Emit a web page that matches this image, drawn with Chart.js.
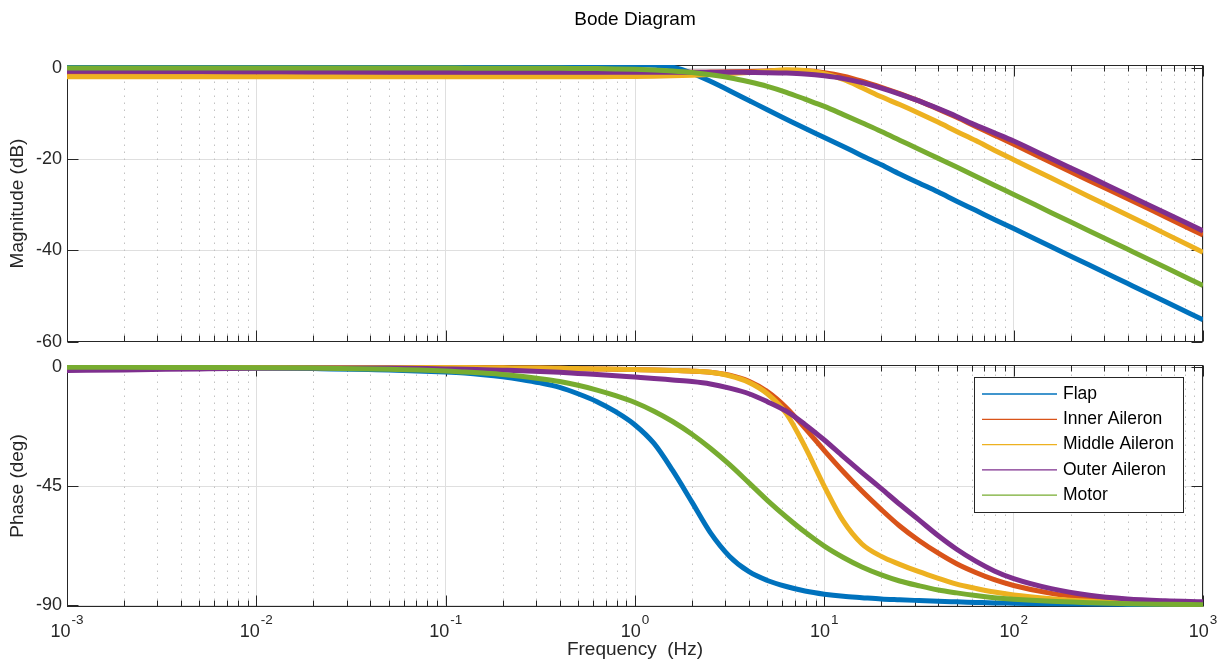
<!DOCTYPE html>
<html>
<head>
<meta charset="utf-8">
<script src="https://cdn.jsdelivr.net/npm/chart.js@4.4.1/dist/chart.umd.min.js"></script>
<style>
  html, body { margin: 0; padding: 0; background: #fff; }
  #wrap { position: relative; width: 1227px; height: 665px; background: #fff; overflow: hidden; }
  #wrap canvas { position: absolute; left: 0; }
</style>
</head>
<body>
<div id="wrap">
  <canvas id="mag" width="1227" height="350" style="top:0"></canvas>
  <canvas id="ph" width="1227" height="315" style="top:350px"></canvas>
</div>
<script>
// ---------------- data ----------------
const freqHz = [0.001,0.002,0.005,0.01,0.02,0.05,
  0.1,0.126,0.158,0.2,0.25,0.316,0.4,0.5,0.63,0.79,
  1,1.26,1.58,2,2.5,3.16,4,5,6.3,7.9,
  10,12.6,15.8,20,25,31.6,40,50,63,79,
  100,158,251,398,631,1000];

const seriesNames = ['Flap','Inner Aileron','Middle Aileron','Outer Aileron','Motor'];
const seriesColors = ['#0072BD','#D95319','#EDB120','#7E2F8E','#77AC30'];

// magnitude (dB)
const magFlap   = [0.3,0.3,0.3,0.3,0.3,0.3,
  0.35,0.35,0.37,0.4,0.42,0.45,0.5,0.55,0.62,0.7,
  0.75,0.65,0.2,-1.1,-2.9,-4.95,-7.1,-9.15,-11.2,-13.2,
  -15.2,-17.2,-19.2,-21.2,-23.2,-25.2,-27.2,-29.2,-31.2,-33.2,
  -35.2,-39.2,-43.2,-47.2,-51.2,-55.2];
const magInner  = [-0.9,-0.9,-0.9,-0.9,-0.9,-0.9,
  -0.95,-1.0,-1.0,-1.0,-1.0,-1.0,-1.0,-1.0,-1.0,-1.0,
  -1.0,-0.98,-0.96,-0.93,-0.88,-0.82,-0.73,-0.63,-0.55,-0.6,
  -1.0,-1.75,-2.85,-4.2,-5.6,-7.2,-9.0,-10.8,-12.8,-14.7,
  -16.7,-20.7,-24.7,-28.6,-32.6,-36.6];
const magMiddle = [-1.9,-1.9,-1.9,-1.9,-1.9,-1.9,
  -1.9,-1.9,-1.9,-1.9,-1.9,-1.9,-1.9,-1.9,-1.88,-1.86,
  -1.83,-1.78,-1.7,-1.58,-1.42,-1.2,-0.95,-0.7,-0.35,-0.5,
  -1.2,-2.5,-4.3,-6.3,-8.0,-9.9,-11.9,-13.9,-15.9,-18.0,
  -20.1,-24.1,-28.2,-32.2,-36.3,-40.4];
const magOuter  = [-0.7,-0.7,-0.75,-0.8,-0.85,-0.9,
  -0.9,-0.9,-0.9,-0.9,-0.9,-0.9,-0.9,-0.9,-0.9,-0.9,
  -0.9,-0.9,-0.9,-0.9,-0.9,-0.9,-0.95,-1.0,-1.1,-1.3,
  -1.7,-2.3,-3.2,-4.4,-5.7,-7.2,-8.9,-10.6,-12.5,-14.2,
  -16.0,-19.9,-23.8,-27.8,-31.7,-35.7];
const magMotor  = [0,0,0,0,0,0,
  0,-0.01,-0.01,-0.01,-0.02,-0.03,-0.04,-0.07,-0.11,-0.17,
  -0.26,-0.41,-0.63,-0.96,-1.45,-2.1,-3.0,-4.0,-5.3,-6.8,
  -8.4,-10.2,-12.0,-13.9,-15.8,-17.8,-19.8,-21.7,-23.7,-25.7,
  -27.7,-31.7,-35.7,-39.7,-43.7,-47.7];

// phase (deg)
const phFlap   = [-0.1,-0.1,-0.2,-0.3,-0.5,-1.0,
  -1.8,-2.2,-2.8,-3.6,-4.6,-5.9,-7.6,-10.0,-13.0,-16.8,
  -21.8,-28.8,-39.0,-51.0,-62.5,-71.5,-77.3,-80.6,-82.9,-84.6,
  -85.8,-86.6,-87.1,-87.6,-87.9,-88.2,-88.5,-88.7,-88.9,-89.1,
  -89.2,-89.4,-89.55,-89.65,-89.75,-89.85];
const phInner  = [0,0,0,0,0,-0.05,
  -0.1,-0.12,-0.15,-0.2,-0.25,-0.3,-0.4,-0.5,-0.6,-0.7,
  -0.85,-1.0,-1.2,-1.45,-1.9,-3.0,-5.3,-9.2,-15.3,-23.0,
  -31.5,-39.5,-46.8,-53.8,-60.0,-65.5,-70.3,-74.3,-77.6,-80.3,
  -82.5,-85.5,-87.3,-88.4,-89.0,-89.4];
const phMiddle = [0,0,0,0,0,-0.05,
  -0.1,-0.12,-0.15,-0.2,-0.25,-0.3,-0.4,-0.5,-0.6,-0.7,
  -0.85,-1.0,-1.2,-1.45,-1.9,-3.2,-5.7,-10.0,-17.5,-30.0,
  -45.0,-58.2,-66.8,-71.5,-74.5,-77.3,-79.8,-82.0,-83.6,-85.0,
  -86.1,-87.5,-88.5,-89.1,-89.4,-89.6];
const phOuter  = [-1.2,-1.0,-0.6,-0.35,-0.25,-0.3,
  -0.6,-0.7,-0.9,-1.1,-1.3,-1.6,-1.9,-2.3,-2.7,-3.2,
  -3.7,-4.2,-4.8,-5.4,-6.3,-7.9,-10.0,-13.0,-16.6,-21.6,
  -27.5,-33.8,-39.8,-45.9,-51.8,-57.7,-63.7,-68.8,-73.3,-77.0,
  -79.9,-83.7,-86.2,-87.6,-88.3,-88.7];
const phMotor  = [0,0,-0.1,-0.15,-0.3,-0.7,
  -1.4,-1.8,-2.2,-2.7,-3.4,-4.3,-5.4,-6.8,-8.6,-10.7,
  -13.3,-16.6,-20.5,-25.3,-30.6,-36.8,-43.7,-50.3,-56.6,-62.3,
  -67.6,-71.9,-75.5,-78.5,-80.8,-82.6,-84.2,-85.3,-86.3,-87.1,
  -87.7,-88.5,-89.0,-89.4,-89.6,-89.75];

// ticks
const xMajorTicks = [0.001,0.01,0.1,1,10,100,1000];
const xTickBase = '10';
const xTickExps = ['-3','-2','-1','0','1','2','3'];
const xMinorTicks = [0.002,0.003,0.004,0.005,0.006,0.007,0.008,0.009,
                     0.02,0.03,0.04,0.05,0.06,0.07,0.08,0.09,
                     0.2,0.3,0.4,0.5,0.6,0.7,0.8,0.9,
                     2,3,4,5,6,7,8,9,
                     20,30,40,50,60,70,80,90,
                     200,300,400,500,600,700,800,900];
const magTicks = [0,-20,-40,-60];
const phTicks = [0,-45,-90];

// ---------------- styling ----------------
const FONT = "'Liberation Sans', Arial, Helvetica, sans-serif";
const AXC = '#262626';
const GRID = '#dfdfdf';

function toXY(vals) { return freqHz.map((f, i) => ({ x: f, y: vals[i] })); }

function makeDatasets(valueArrays) {
  return valueArrays.map((vals, i) => ({
    label: seriesNames[i],
    data: toXY(vals),
    borderColor: seriesColors[i],
    backgroundColor: seriesColors[i],
    borderWidth: 5,
    pointRadius: 0,
    fill: false,
    cubicInterpolationMode: 'monotone',
    order: valueArrays.length - i   // later series drawn on top (like MATLAB)
  }));
}

const framePlugin = {
  id: 'frame',
  beforeDatasetsDraw(chart, args, opts) {
    const { ctx, chartArea: a, scales } = chart;
    const x = scales.x, y = scales.y;
    ctx.save();
    // minor dotted grid
    ctx.strokeStyle = '#c2c2c2';
    ctx.lineWidth = 1;
    ctx.setLineDash([1.5, 5.5]);
    xMinorTicks.forEach(v => {
      const px = Math.round(x.getPixelForValue(v)) + 0.5;
      ctx.beginPath(); ctx.moveTo(px, a.bottom); ctx.lineTo(px, a.top); ctx.stroke();
    });
    ctx.setLineDash([]);
    // inner ticks
    ctx.strokeStyle = AXC;
    ctx.lineWidth = 1;
    const L = Math.round(a.left) + 0.5, R = Math.round(a.right) - 0.5;
    const T = Math.round(a.top) + 0.5, B = Math.round(a.bottom) - 0.5;
    const tick = (x1, y1, x2, y2) => { ctx.beginPath(); ctx.moveTo(x1, y1); ctx.lineTo(x2, y2); ctx.stroke(); };
    xMajorTicks.forEach(v => {
      const px = Math.round(x.getPixelForValue(v)) + 0.5;
      tick(px, B, px, B - 11); tick(px, T, px, T + 11);
    });
    xMinorTicks.forEach(v => {
      const px = Math.round(x.getPixelForValue(v)) + 0.5;
      tick(px, B, px, B - 6); tick(px, T, px, T + 6);
    });
    (opts.yTicks || []).forEach(v => {
      const py = Math.round(y.getPixelForValue(v)) + 0.5;
      tick(L, py, L + 11, py); tick(R, py, R - 11, py);
    });
    // box
    ctx.strokeRect(L, T, R - L, B - T);
    ctx.restore();
  }
};

// x tick labels as 10 with a raised exponent (like MATLAB), placed through the x scale
const expTickPlugin = {
  id: 'expTicks',
  afterDraw(chart, args, opts) {
    if (!opts.show) return;
    const { ctx, chartArea: a, scales: { x } } = chart;
    ctx.save();
    ctx.fillStyle = AXC;
    ctx.textBaseline = 'alphabetic';
    ctx.textAlign = 'left';
    const baseY = Math.round(a.bottom) + 30;
    xMajorTicks.forEach((v, i) => {
      const ex = xTickExps[i];
      ctx.font = '18px ' + FONT;
      const wb = ctx.measureText(xTickBase).width;
      ctx.font = '13.5px ' + FONT;
      const we = ctx.measureText(ex).width;
      const px = x.getPixelForValue(v);
      const left = px - (wb + we + 1) / 2;
      ctx.font = '18px ' + FONT;
      ctx.fillText(xTickBase, left, baseY);
      ctx.font = '13.5px ' + FONT;
      ctx.fillText(ex, left + wb + 1, baseY - 13.5);
    });
    ctx.restore();
  }
};

const legendPlugin = {
  id: 'boxLegend',
  afterDatasetsDraw(chart, args, opts) {
    if (!opts.show) return;
    const { ctx, chartArea: a } = chart;
    const ds = chart.data.datasets;
    ctx.save();
    ctx.font = '17.5px ' + FONT;
    const textW = Math.max(...ds.map(d => ctx.measureText(d.label).width));
    const rowH = 25.3;
    const w = Math.round(89 + textW + 9);
    const h = 135;
    const right = Math.round(a.right) - 20;
    const top = Math.round(a.top) + 12;
    const left = right - w;
    ctx.fillStyle = '#fff';
    ctx.fillRect(left, top, w, h);
    ctx.strokeStyle = AXC; ctx.lineWidth = 1;
    ctx.strokeRect(left + 0.5, top + 0.5, w, h);
    ds.forEach((d, i) => {
      const cy = top + 17 + i * rowH;
      ctx.strokeStyle = d.borderColor; ctx.lineWidth = 1.3;
      ctx.beginPath(); ctx.moveTo(left + 8, cy); ctx.lineTo(left + 83, cy); ctx.stroke();
      ctx.fillStyle = '#000'; ctx.textBaseline = 'middle'; ctx.textAlign = 'left';
      ctx.fillText(d.label, left + 89, cy);
    });
    ctx.restore();
  }
};

function xScale(showTitle, height) {
  return {
    type: 'logarithmic',
    min: 0.001, max: 1000,
    afterBuildTicks: s => { s.ticks = xMajorTicks.map(v => ({ value: v, major: true })); },
    afterFit: s => { s.height = height; s.paddingLeft = 0; s.paddingRight = 0; },
    grid: { color: GRID, lineWidth: 1, drawTicks: false },
    border: { display: false },
    ticks: { display: false, autoSkip: false, maxRotation: 0, minRotation: 0 },
    title: showTitle ? {
      display: true, text: 'Frequency  (Hz)', color: AXC,
      font: { family: FONT, size: 19 }, padding: { top: 0, bottom: 4 }
    } : { display: false }
  };
}

function yScale(min, max, tickVals, title) {
  return {
    type: 'linear',
    min: min, max: max,
    afterBuildTicks: s => { s.ticks = tickVals.map(v => ({ value: v })); },
    afterFit: s => { s.width = 67; s.paddingTop = 0; s.paddingBottom = 0; },
    grid: { color: GRID, lineWidth: 1, drawTicks: false },
    border: { display: false },
    ticks: {
      padding: 5, color: AXC,
      font: { family: FONT, size: 18 },
      callback: v => String(v)
    },
    title: { display: true, text: title, color: AXC, font: { family: FONT, size: 19 }, padding: { top: 6, bottom: 0 } }
  };
}

Chart.defaults.font.family = FONT;

new Chart(document.getElementById('mag'), {
  type: 'line',
  data: { datasets: makeDatasets([magFlap, magInner, magMiddle, magOuter, magMotor]) },
  plugins: [framePlugin],
  options: {
    responsive: false, animation: false,
    layout: { padding: { left: 0, right: 24, top: 0, bottom: 0 } },
    plugins: {
      legend: { display: false },
      tooltip: { enabled: false },
      title: {
        display: true, text: 'Bode Diagram', color: '#000', fullSize: false,
        font: { family: FONT, size: 19, weight: 'normal' },
        padding: { top: 8, bottom: 34.2 }
      },
      frame: { yTicks: magTicks }
    },
    scales: {
      x: xScale(false, 8),
      y: yScale(-60.07, 0.68, magTicks, 'Magnitude (dB)')
    }
  }
});

new Chart(document.getElementById('ph'), {
  type: 'line',
  data: { datasets: makeDatasets([phFlap, phInner, phMiddle, phOuter, phMotor]) },
  plugins: [framePlugin, legendPlugin, expTickPlugin],
  options: {
    responsive: false, animation: false,
    layout: { padding: { left: 0, right: 24, top: 15, bottom: 0 } },
    plugins: {
      legend: { display: false },
      tooltip: { enabled: false },
      frame: { yTicks: phTicks },
      boxLegend: { show: true },
      expTicks: { show: true }
    },
    scales: {
      x: xScale(true, 58),
      y: yScale(-90.64, 0.87, phTicks, 'Phase (deg)')
    }
  }
});
</script>
</body>
</html>
